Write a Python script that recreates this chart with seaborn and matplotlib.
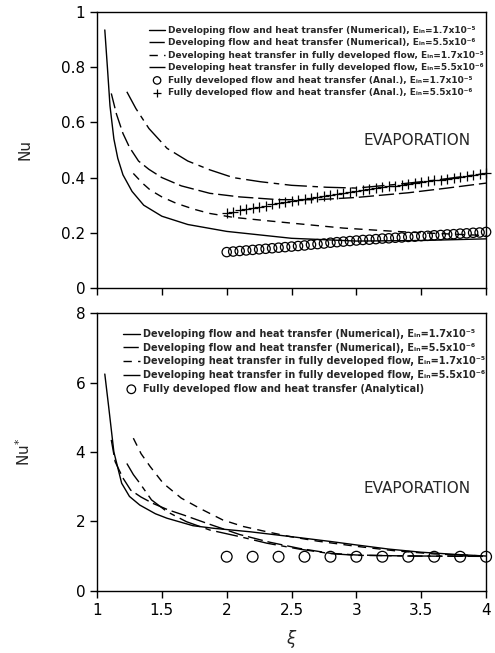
import numpy as np
import pandas as pd
import seaborn as sns
import matplotlib.pyplot as plt

# ---- top panel (Nu) ----
x_num17 = [1.06, 1.08, 1.10, 1.13, 1.16, 1.20, 1.27, 1.36, 1.50, 1.70, 2.00, 2.50, 3.00, 3.50, 4.00]
nu_num17 = [0.935, 0.80, 0.66, 0.54, 0.47, 0.41, 0.35, 0.30, 0.26, 0.23, 0.205, 0.18, 0.17, 0.172, 0.178]

x_num55 = [1.11, 1.15, 1.20, 1.25, 1.32, 1.40, 1.50, 1.65, 1.87, 2.10, 2.40, 2.70, 3.00, 3.40, 3.70, 4.00]
nu_num55 = [0.705, 0.63, 0.56, 0.51, 0.46, 0.43, 0.40, 0.37, 0.343, 0.33, 0.32, 0.32, 0.328, 0.345, 0.362, 0.38]

x_fd17 = [1.28, 1.35, 1.41, 1.50, 1.61, 1.75, 1.87, 2.05, 2.26, 2.50, 2.90, 3.30, 3.60, 4.00]
nu_fd17 = [0.415, 0.38, 0.355, 0.33, 0.307, 0.285, 0.27, 0.256, 0.246, 0.235, 0.217, 0.205, 0.198, 0.19]

x_fd55 = [1.23, 1.30, 1.40, 1.54, 1.70, 1.87, 2.05, 2.26, 2.50, 2.77, 3.00, 3.30, 3.60, 4.00]
nu_fd55 = [0.711, 0.65, 0.578, 0.506, 0.46, 0.428, 0.40, 0.385, 0.372, 0.365, 0.362, 0.375, 0.39, 0.415]

x_anal = [2.00, 2.05, 2.10, 2.15, 2.20, 2.25, 2.30, 2.35, 2.40, 2.45, 2.50, 2.55, 2.60, 2.65,
          2.70, 2.75, 2.80, 2.85, 2.90, 2.95, 3.00, 3.05, 3.10, 3.15, 3.20, 3.25, 3.30, 3.35,
          3.40, 3.45, 3.50, 3.55, 3.60, 3.65, 3.70, 3.75, 3.80, 3.85, 3.90, 3.95, 4.00]
nu_anal17 = [0.130, 0.132, 0.134, 0.136, 0.138, 0.140, 0.142, 0.144, 0.146, 0.148, 0.150, 0.152,
             0.154, 0.157, 0.159, 0.161, 0.164, 0.166, 0.168, 0.170, 0.172, 0.174, 0.175, 0.177,
             0.179, 0.180, 0.182, 0.183, 0.185, 0.186, 0.188, 0.189, 0.191, 0.192, 0.194, 0.195,
             0.197, 0.198, 0.200, 0.201, 0.203]
nu_anal55 = [0.272, 0.277, 0.281, 0.286, 0.290, 0.294, 0.298, 0.303, 0.307, 0.311, 0.315, 0.319,
             0.323, 0.326, 0.330, 0.334, 0.338, 0.341, 0.345, 0.348, 0.352, 0.355, 0.358, 0.362,
             0.365, 0.368, 0.371, 0.374, 0.377, 0.380, 0.384, 0.387, 0.390, 0.393, 0.396, 0.399,
             0.402, 0.405, 0.408, 0.412, 0.415]

# ---- bottom panel (Nu*) ----
xb_num17 = [1.06, 1.09, 1.11, 1.13, 1.15, 1.19, 1.25, 1.33, 1.45, 1.54, 1.74, 1.90, 2.18, 2.54,
            2.80, 3.00, 3.25, 3.50, 3.75, 4.00]
nus_num17 = [6.25, 5.3, 4.65, 4.0, 3.7, 3.1, 2.72, 2.47, 2.22, 2.09, 1.875, 1.80, 1.70, 1.54,
             1.42, 1.32, 1.20, 1.11, 1.05, 1.00]

xb_num55 = [1.11, 1.14, 1.20, 1.26, 1.34, 1.43, 1.55, 1.67, 1.85, 2.10, 2.33, 2.56, 2.80, 3.00, 3.40, 4.00]
nus_num55 = [4.35, 3.72, 3.25, 2.90, 2.70, 2.52, 2.33, 2.18, 1.94, 1.62, 1.40, 1.22, 1.08, 1.03, 1.00, 0.99]

xb_fd17 = [1.28, 1.34, 1.41, 1.51, 1.65, 1.79, 1.97, 2.13, 2.31, 2.49, 2.70, 3.00, 3.30, 3.60, 4.00]
nus_fd17 = [4.40, 3.95, 3.58, 3.10, 2.67, 2.38, 2.04, 1.85, 1.70, 1.56, 1.43, 1.28, 1.15, 1.06, 1.00]

xb_fd55 = [1.23, 1.28, 1.33, 1.42, 1.54, 1.69, 1.87, 2.10, 2.31, 2.56, 2.80, 3.00, 3.50, 4.00]
nus_fd55 = [3.67, 3.35, 3.10, 2.62, 2.28, 1.99, 1.75, 1.56, 1.37, 1.20, 1.07, 1.02, 1.00, 1.00]

xb_anal = [2.0, 2.2, 2.4, 2.6, 2.8, 3.0, 3.2, 3.4, 3.6, 3.8, 4.0]
nus_anal = [0.98, 0.98, 0.98, 0.98, 0.98, 0.98, 0.98, 0.98, 0.98, 0.98, 0.98]

# plain unicode sub/superscripts keep the legend rows tight
E17 = 'E\u1d62\u2099=1.7x10\u207b\u2075'
E55 = 'E\u1d62\u2099=5.5x10\u207b\u2076'
lbl_num = 'Developing flow and heat transfer (Numerical), '
lbl_fd = 'Developing heat transfer in fully developed flow, '

sns.set_style('ticks')
plt.rcParams['font.family'] = ['DejaVu Sans', 'Noto Sans']
plt.rcParams['mathtext.fontset'] = 'dejavusans'

fig = plt.figure(figsize=(4.95, 6.53), dpi=100)
ax1 = fig.add_axes([0.196, 0.559, 0.786, 0.4226])
ax2 = fig.add_axes([0.196, 0.0954, 0.786, 0.4247])

styles = {'num17': '-', 'num55': (0, (11, 3.5)), 'fd17': (0, (6, 4.5)), 'fd55': (0, (16, 4, 4, 4))}


def draw_lines(ax, series):
    for (xs, ys, key, lab) in series:
        sns.lineplot(x=xs, y=ys, ax=ax, color='k', lw=1.0, linestyle=styles[key], label=lab)


draw_lines(ax1, [(x_num17, nu_num17, 'num17', lbl_num + E17),
                 (x_num55, nu_num55, 'num55', lbl_num + E55),
                 (x_fd17, nu_fd17, 'fd17', lbl_fd + E17),
                 (x_fd55, nu_fd55, 'fd55', lbl_fd + E55)])
ax1.scatter(x_anal, nu_anal17, s=45, marker='o', facecolors='none', edgecolors='k', linewidths=0.9,
            clip_on=False, label='Fully developed flow and heat transfer (Anal.), ' + E17)
ax1.scatter(x_anal, nu_anal55, s=45, marker='+', color='k', linewidths=0.9,
            clip_on=False, label='Fully developed flow and heat transfer (Anal.), ' + E55)

draw_lines(ax2, [(xb_num17, nus_num17, 'num17', lbl_num + E17),
                 (xb_num55, nus_num55, 'num55', lbl_num + E55),
                 (xb_fd17, nus_fd17, 'fd17', lbl_fd + E17),
                 (xb_fd55, nus_fd55, 'fd55', lbl_fd + E55)])
ax2.scatter(xb_anal, nus_anal, s=60, marker='o', facecolors='none', edgecolors='k', linewidths=0.9,
            clip_on=False, label='Fully developed flow and heat transfer (Analytical)')

for ax in (ax1, ax2):
    ax.set_xlim(1, 4)
    ax.set_xticks([1, 1.5, 2, 2.5, 3, 3.5, 4])
    for sp in ax.spines.values():
        sp.set_visible(True)
        sp.set_linewidth(1.0)
        sp.set_color('k')
    ax.tick_params(direction='out', length=5, width=1, labelsize=11, colors='k')

ax1.set_ylim(0, 1)
ax1.set_yticks([0, 0.2, 0.4, 0.6, 0.8, 1])
ax1.set_yticklabels(['0', '0.2', '0.4', '0.6', '0.8', '1'])
ax1.set_xticklabels([])
ax1.set_ylabel('Nu', fontsize=11)
ax1.yaxis.set_label_coords(-0.165, 0.5)
ax1.set_xlabel('')

ax2.set_ylim(0, 8)
ax2.set_yticks([0, 2, 4, 6, 8])
ax2.set_xticklabels(['1', '1.5', '2', '2.5', '3', '3.5', '4'])
ax2.set_ylabel(r'Nu$^{*}$', fontsize=11)
ax2.yaxis.set_label_coords(-0.165, 0.5)
ax2.set_xlabel(r'$\xi$', fontsize=12)
ax2.xaxis.set_label_coords(0.5, -0.135)

ax1.text(0.96, 0.536, 'EVAPORATION', transform=ax1.transAxes, ha='right', va='center', fontsize=11)
ax2.text(0.96, 0.367, 'EVAPORATION', transform=ax2.transAxes, ha='right', va='center', fontsize=11)

ax1.legend(loc='upper right', bbox_to_anchor=(1.01, 0.972), frameon=False,
           prop={'size': 6.5, 'weight': 'bold'},
           handlelength=1.8, handletextpad=0.3, labelspacing=0.38, borderpad=0.2, markerscale=0.8)
ax2.legend(loc='upper right', bbox_to_anchor=(1.015, 0.968), frameon=False,
           prop={'size': 7.0, 'weight': 'bold'},
           handlelength=1.8, handletextpad=0.3, labelspacing=0.38, borderpad=0.2, markerscale=0.8)

fig.savefig('out.png', dpi=100)
